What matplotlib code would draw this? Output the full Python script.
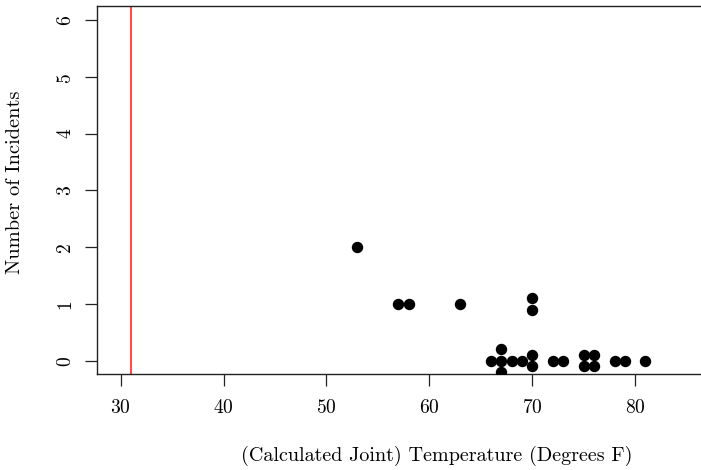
import matplotlib

matplotlib.use("Agg")
import matplotlib.pyplot as plt

# Launch temperatures (deg F) and O-ring incidents, with small vertical offsets for stacked points
temperature = [53, 57, 58, 63, 70, 70,
               66, 67, 67, 67, 68, 69, 70, 70, 72, 73, 75, 75, 76, 76, 78, 79, 81]
incidents = [2, 1, 1, 1, 1.1, 0.9,
             0, 0.2, 0, -0.2, 0, 0, 0.1, -0.1, 0, 0, 0.1, -0.1, 0.1, -0.1, 0, 0, 0]
launch_temp = 31
x_ticks = [30, 40, 50, 60, 70, 80]
y_ticks = [0, 1, 2, 3, 4, 5, 6]

plt.rcParams["font.family"] = ["cmr10", "DejaVu Serif"]
plt.rcParams["axes.formatter.use_mathtext"] = True

W, H = 701, 470
fig = plt.figure(figsize=(W / 100, H / 100), dpi=100)
left, right, top, bottom = 97.3, 701, 6.3, 374.3
ax = fig.add_axes([left / W, 1 - bottom / H, (right - left) / W, (bottom - top) / H])

ax.axvline(launch_temp, color="#ff4d4d", lw=1.5, zorder=1)
ax.plot(temperature, incidents, "o", color="black", ms=7.2, zorder=3)

ax.set_xlim(27.73, 86.4)
ax.set_ylim(-0.24, 6.24)
ax.set_xticks(x_ticks)
ax.set_yticks(y_ticks)
ax.set_yticklabels([str(v) for v in y_ticks], rotation=90, va="center")

for side in ("left", "bottom", "top"):
    ax.spines[side].set_color("#222222")
    ax.spines[side].set_linewidth(1.0)
ax.spines["right"].set_visible(False)

fs = 14
ax.tick_params(axis="both", length=8.6, width=0.9, color="#222222", labelsize=fs)
ax.tick_params(axis="x", pad=9)
ax.tick_params(axis="y", pad=8)

ax.set_xlabel("(Calculated Joint) Temperature (Degrees F)", fontsize=14.5)
ax.set_ylabel("Number of Incidents", fontsize=14.7)
# the original plot region runs past the right edge, so the x label is centred further right
ax.xaxis.set_label_coords((437 - left) / (right - left), -(456 - bottom) / (bottom - top))
ax.xaxis.label.set_va("center")
ax.yaxis.set_label_coords(-(left - 15) / (right - left), (bottom - 182) / (bottom - top))
ax.yaxis.label.set_va("center")

fig.savefig("out.png", dpi=100)
